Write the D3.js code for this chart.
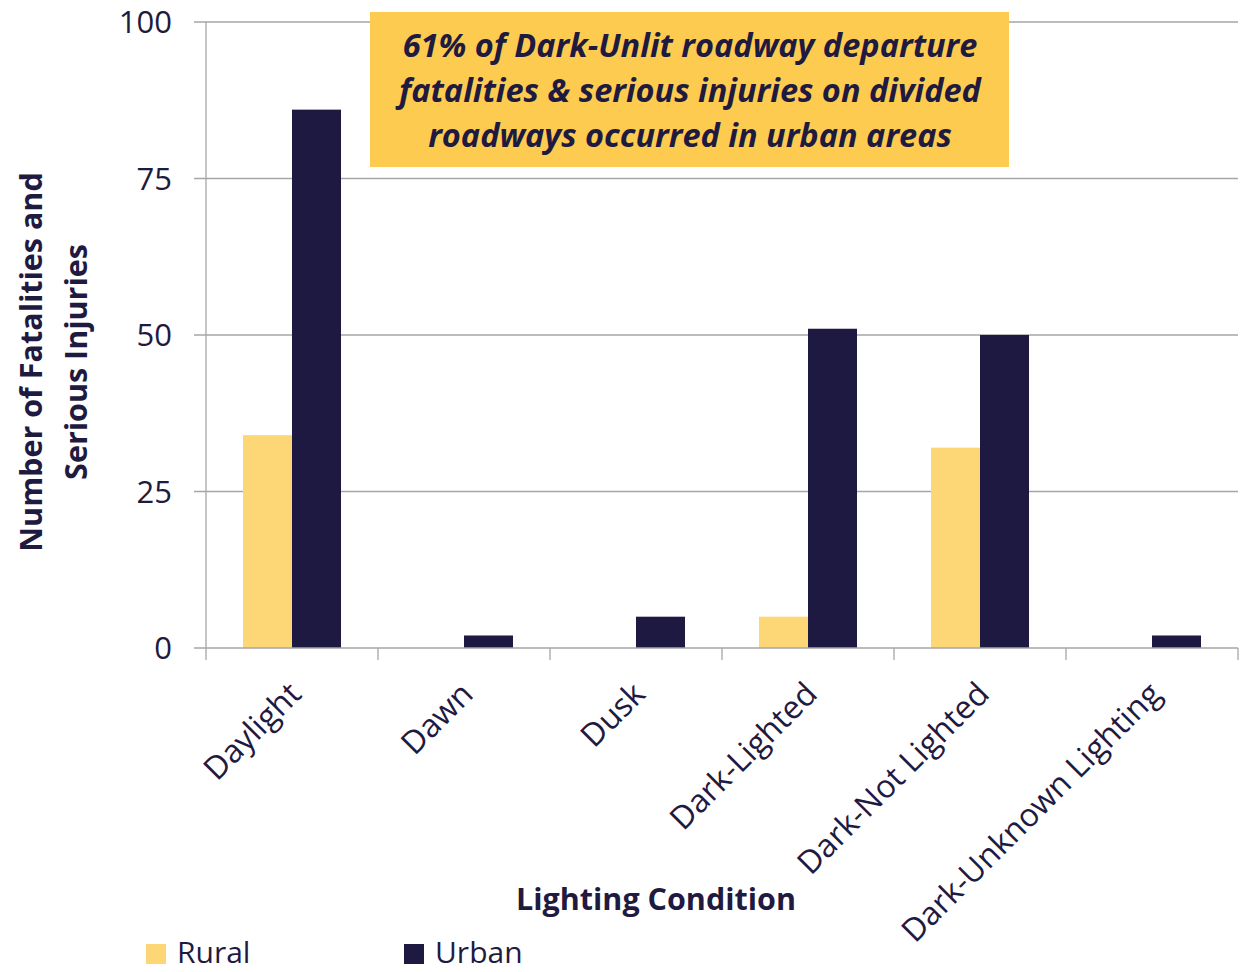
<!DOCTYPE html>
<html>
<head>
<meta charset="utf-8">
<script src="https://cdn.jsdelivr.net/npm/d3@7"></script>
<style>
  body { margin: 0; background: #fff; }
  svg text { font-family: 'Open Sans', sans-serif; fill: #1f1a3f; }
</style>
</head>
<body>
<div id="chart"></div>
<script>
'use strict';

var categories = ['Daylight', 'Dawn', 'Dusk', 'Dark-Lighted', 'Dark-Not Lighted', 'Dark-Unknown Lighting'];
var seriesNames = ['Rural', 'Urban'];
var rural = [34, 0, 0, 5, 32, 0];
var urban = [86, 2, 5, 51, 50, 2];
var yTicks = [0, 25, 50, 75, 100];
var callout = [
  '61% of Dark-Unlit roadway departure',
  'fatalities & serious injuries on divided',
  'roadways occurred in urban areas'
];

var COLORS = { Rural: '#fdd675', Urban: '#1e1940' };
var GRID = '#a6a6a6';

var W = 1240, H = 972;
var m = { left: 206, right: 2, top: 22, bottom: 324 };

var svg = d3.select('#chart')
  .append('svg')
  .attr('width', W)
  .attr('height', H);

var x0 = d3.scaleBand()
  .domain(categories)
  .range([m.left, W - m.right])
  .paddingInner(0)
  .paddingOuter(0);

// bar pair takes ~98 of 172 px per category
var x1 = d3.scaleBand()
  .domain(seriesNames)
  .range([0, x0.bandwidth()])
  .paddingInner(0)
  .paddingOuter(0.755);

var y = d3.scaleLinear()
  .domain([0, 100])
  .range([H - m.bottom, m.top]);

// grid lines
svg.append('g')
  .selectAll('line')
  .data(yTicks.filter(function(d) { return d > 0; }))
  .enter().append('line')
  .attr('x1', m.left - 12)
  .attr('x2', W - m.right)
  .attr('y1', function(d) { return y(d); })
  .attr('y2', function(d) { return y(d); })
  .attr('stroke', GRID)
  .attr('stroke-width', 1.3);

// y tick labels
svg.append('g')
  .selectAll('text')
  .data(yTicks)
  .enter().append('text')
  .attr('x', 172)
  .attr('y', function(d) { return y(d); })
  .attr('dy', '0.36em')
  .attr('text-anchor', 'end')
  .style('font-size', '31px')
  .text(function(d) { return d; });

// bars
var rows = categories.map(function(c, i) {
  return { cat: c, values: [{ s: 'Rural', v: rural[i] }, { s: 'Urban', v: urban[i] }] };
});

svg.append('g')
  .selectAll('g')
  .data(rows)
  .enter().append('g')
  .attr('transform', function(d) { return 'translate(' + x0(d.cat) + ',0)'; })
  .selectAll('rect')
  .data(function(d) { return d.values.filter(function(e) { return e.v > 0; }); })
  .enter().append('rect')
  .attr('x', function(d) { return x1(d.s); })
  .attr('width', x1.bandwidth())
  .attr('y', function(d) { return y(d.v); })
  .attr('height', function(d) { return y(0) - y(d.v); })
  .attr('fill', function(d) { return COLORS[d.s]; });

// y axis line
svg.append('line')
  .attr('x1', m.left).attr('x2', m.left)
  .attr('y1', y(100)).attr('y2', y(0))
  .attr('stroke', GRID).attr('stroke-width', 1.3);

// x axis line + ticks
svg.append('line')
  .attr('x1', m.left - 12).attr('x2', W - m.right)
  .attr('y1', y(0)).attr('y2', y(0))
  .attr('stroke', GRID).attr('stroke-width', 1.3);

var bounds = categories.map(function(c) { return x0(c); }).concat([W - m.right]);
svg.append('g')
  .selectAll('line')
  .data(bounds)
  .enter().append('line')
  .attr('x1', function(d) { return d; })
  .attr('x2', function(d) { return d; })
  .attr('y1', y(0))
  .attr('y2', y(0) + 12)
  .attr('stroke', GRID)
  .attr('stroke-width', 1.3);

// x tick labels
svg.append('g')
  .selectAll('text')
  .data(categories)
  .enter().append('text')
  .attr('text-anchor', 'end')
  .style('font-size', '32px')
  .attr('transform', function(d) {
    var cx = x0(d) + x0.bandwidth() / 2 + 11;
    return 'translate(' + cx + ',' + (y(0) + 48) + ') rotate(-45)';
  })
  .text(function(d) { return d; });

// axis titles
svg.append('text')
  .attr('x', 656)
  .attr('y', 910)
  .attr('text-anchor', 'middle')
  .style('font-size', '30.5px')
  .style('font-weight', 'bold')
  .text('Lighting Condition');

var yTitle = svg.append('text')
  .attr('transform', 'translate(42,362) rotate(-90)')
  .attr('text-anchor', 'middle')
  .style('font-size', '30.5px')
  .style('font-weight', 'bold');
yTitle.append('tspan').attr('x', 0).attr('dy', 0).text('Number of Fatalities and');
yTitle.append('tspan').attr('x', 0).attr('dy', 45).text('Serious Injuries');

// callout box
svg.append('rect')
  .attr('x', 370).attr('y', 12)
  .attr('width', 639).attr('height', 155)
  .attr('fill', '#fdcb4f');

svg.append('g')
  .selectAll('text')
  .data(callout)
  .enter().append('text')
  .attr('x', 690)
  .attr('y', function(d, i) { return 57 + i * 45; })
  .attr('text-anchor', 'middle')
  .style('font-size', '32.5px')
  .style('font-weight', 'bold')
  .style('font-style', 'italic')
  .text(function(d) { return d; });

// legend
var legend = svg.append('g')
  .selectAll('g')
  .data(seriesNames)
  .enter().append('g')
  .attr('transform', function(d, i) { return 'translate(' + (146 + i * 258) + ',944)'; });

legend.append('rect')
  .attr('width', 20).attr('height', 20)
  .attr('fill', function(d) { return COLORS[d]; });

legend.append('text')
  .attr('x', 31)
  .attr('y', 19)
  .style('font-size', '30px')
  .text(function(d) { return d; });
</script>
</body>
</html>
